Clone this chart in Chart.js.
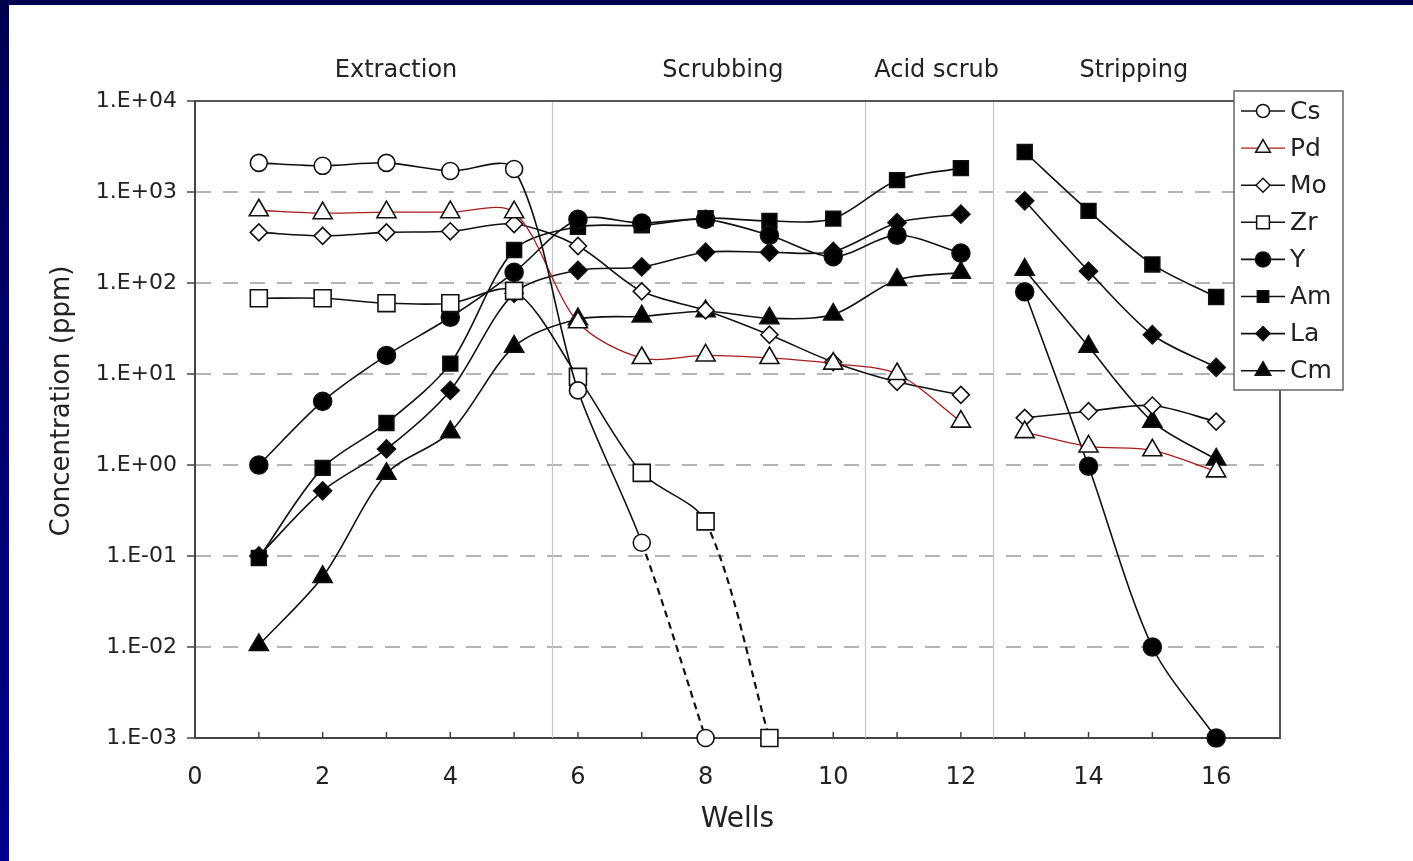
<!DOCTYPE html>
<html>
<head>
<meta charset="utf-8">
<script src="https://cdn.jsdelivr.net/npm/chart.js@4/dist/chart.umd.min.js"></script>
<style>
  html, body { margin: 0; padding: 0; }
  body { width: 1413px; height: 861px; background: linear-gradient(#000050, #00008b); overflow: hidden; position: relative; }
  #panel { position: absolute; left: 9px; top: 5px; width: 1404px; height: 856px; background: #fff; }
  #wrap { position: absolute; left: 0; top: 0; width: 1413px; height: 861px; }
</style>
</head>
<body>
<div id="panel"></div>
<div id="wrap"><canvas id="c" width="1413" height="861"></canvas></div>
<script>
// wells 1..16, null = no value (the gap between acid scrub and stripping is at 12.5)
const wells = [1, 2, 3, 4, 5, 6, 7, 8, 9, 10, 11, 12, 12.5, 13, 14, 15, 16];

const cs = [2090, 1940, 2090, 1700, 1790, 6.6, 0.14, 0.001, null, null, null, null, null, null, null, null, null];
const pd = [630, 585, 600, 600, 600, 37, 15, 16, 15, 13, 10, 3.0, null, 2.3, 1.6, 1.45, 0.85];
const mo = [360, 330, 360, 370, 445, 255, 81, 50, 27, 13.5, 8.2, 5.9, null, 3.3, 3.9, 4.5, 3.0];
const zr = [68, 68, 60, 60, 82, 9.3, 0.82, 0.24, 0.001, null, null, null, null, null, null, null, null];
const yy = [1.0, 5.0, 16, 42, 131, 500, 455, 500, 335, 195, 335, 213, null, 80, 0.97, 0.01, 0.001];
const am = [0.095, 0.93, 2.9, 13, 230, 415, 430, 515, 480, 510, 1350, 1830, null, 2750, 620, 160, 70];
const la = [0.1, 0.52, 1.5, 6.6, 77, 138, 150, 218, 218, 222, 460, 570, null, 800, 135, 27, 11.8];
const cm = [0.0105, 0.059, 0.8, 2.3, 20, 40, 43, 49, 41, 45, 108, 130, null, 140, 20, 3.0, 1.15];

const seriesNames = ['Cs', 'Pd', 'Mo', 'Zr', 'Y', 'Am', 'La', 'Cm'];
const seriesValues = [cs, pd, mo, zr, yy, am, la, cm];
// last segment of Cs and Zr is drawn dashed (below detection)
const dashedLast = [true, false, false, true, false, false, false, false];

const yTicks = [0.001, 0.01, 0.1, 1, 10, 100, 1000, 10000];
const yTickLabels = ['1.E-03', '1.E-02', '1.E-01', '1.E+00', '1.E+01', '1.E+02', '1.E+03', '1.E+04'];
const xLabelTicks = [0, 2, 4, 6, 8, 10, 12, 14, 16];

const sections = ['Extraction', 'Scrubbing', 'Acid scrub', 'Stripping'];
const sectionCenters = [3.15, 8.27, 11.62, 14.71];
const sectionDividers = [5.6, 10.5, 12.5];

const styles = {
  Cs: { shape: 'circle', fill: '#fff', r: 8.5, line: '#111', lr: 6.5 },
  Pd: { shape: 'triangle', fill: '#fff', r: 11, line: '#a81c1c', lr: 8.5 },
  Mo: { shape: 'rectRot', fill: '#fff', r: 8.5, line: '#111', lr: 7 },
  Zr: { shape: 'rect', fill: '#fff', r: 12, line: '#111', lr: 9 },
  Y:  { shape: 'circle', fill: '#000', r: 9, line: '#111', lr: 7.5 },
  Am: { shape: 'rect', fill: '#000', r: 10.5, line: '#111', lr: 8 },
  La: { shape: 'rectRot', fill: '#000', r: 9, line: '#111', lr: 7 },
  Cm: { shape: 'triangle', fill: '#000', r: 11, line: '#111', lr: 9 }
};

const datasets = seriesNames.map((name, i) => {
  const st = styles[name];
  const vals = seriesValues[i];
  const pts = wells.map((w, j) => ({ x: w, y: vals[j] }));
  const lastIdx = vals.reduce((a, v, j) => v != null ? j : a, -1);
  return {
    label: name,
    data: pts,
    borderColor: st.line,
    borderWidth: name === 'Pd' ? 1.3 : 1.6,
    backgroundColor: st.fill,
    pointStyle: st.shape,
    pointRadius: wells.map((w, j) => vals[j] == null ? 0 : st.r),
    pointBorderColor: '#111',
    pointBackgroundColor: st.fill,
    pointBorderWidth: 1.6,
    tension: 0.3,
    spanGaps: false,
    clip: false,
    segment: dashedLast[i] ? {
      borderDash: ctx => ctx.p1DataIndex === lastIdx ? [7, 5] : undefined,
      borderWidth: ctx => ctx.p1DataIndex === lastIdx ? 2.2 : undefined
    } : undefined
  };
});

const font = '"DejaVu Sans", Arial, sans-serif';

function shapePath(ctx, shape, x, y, r) {
  ctx.beginPath();
  if (shape === 'circle') {
    ctx.arc(x, y, r, 0, Math.PI * 2);
  } else if (shape === 'triangle') {
    for (let k = 0; k < 3; k++) {
      const a = -Math.PI / 2 + k * 2 * Math.PI / 3;
      const px = x + Math.cos(a) * r, py = y + Math.sin(a) * r;
      if (k === 0) ctx.moveTo(px, py); else ctx.lineTo(px, py);
    }
  } else if (shape === 'rectRot') {
    ctx.moveTo(x - r, y); ctx.lineTo(x, y - r); ctx.lineTo(x + r, y); ctx.lineTo(x, y + r);
  } else {
    const s = r * Math.SQRT1_2;
    ctx.rect(x - s, y - s, 2 * s, 2 * s);
  }
  ctx.closePath();
}

const decorPlugin = {
  id: 'decor',
  beforeDatasetsDraw(chart) {
    const { ctx, chartArea: a, scales: { x } } = chart;
    ctx.save();
    // section dividers
    ctx.strokeStyle = '#c4c4c4';
    ctx.lineWidth = 1.2;
    sectionDividers.forEach(v => {
      const px = Math.round(x.getPixelForValue(v)) + 0.5;
      ctx.beginPath(); ctx.moveTo(px, a.top); ctx.lineTo(px, a.bottom); ctx.stroke();
    });
    // inner minor ticks on x axis
    ctx.strokeStyle = '#444';
    ctx.lineWidth = 1.5;
    for (let v = 1; v <= 16; v++) {
      const px = x.getPixelForValue(v);
      ctx.beginPath(); ctx.moveTo(px, a.bottom); ctx.lineTo(px, a.bottom - 6); ctx.stroke();
    }
    // top and right frame
    ctx.strokeStyle = '#555';
    ctx.lineWidth = 2;
    ctx.beginPath();
    ctx.moveTo(a.left, a.top); ctx.lineTo(a.right, a.top); ctx.lineTo(a.right, a.bottom);
    ctx.stroke();
    // section labels
    ctx.fillStyle = '#222';
    ctx.font = '24px ' + font;
    ctx.textAlign = 'center';
    ctx.textBaseline = 'middle';
    sections.forEach((s, i) => ctx.fillText(s, x.getPixelForValue(sectionCenters[i]), 71));
    // y axis title
    ctx.save();
    ctx.translate(62, 401);
    ctx.rotate(-Math.PI / 2);
    ctx.font = '26px ' + font;
    ctx.fillText('Concentration (ppm)', 0, 0);
    ctx.restore();
    ctx.restore();
  },
  afterDraw(chart) {
    const { ctx } = chart;
    const bx = 1234, by = 91, bw = 109, bh = 299;
    ctx.save();
    ctx.fillStyle = '#fff';
    ctx.fillRect(bx, by, bw, bh);
    ctx.strokeStyle = '#666';
    ctx.lineWidth = 1.5;
    ctx.strokeRect(bx, by, bw, bh);
    seriesNames.forEach((name, i) => {
      const st = styles[name];
      const cy = 111 + i * 37.1;
      ctx.strokeStyle = st.line;
      ctx.lineWidth = name === 'Pd' ? 1.3 : 1.6;
      ctx.beginPath(); ctx.moveTo(1241, cy); ctx.lineTo(1285, cy); ctx.stroke();
      shapePath(ctx, st.shape, 1263, cy, st.lr);
      ctx.fillStyle = st.fill;
      ctx.fill();
      ctx.strokeStyle = '#111';
      ctx.lineWidth = 1.5;
      ctx.stroke();
      ctx.fillStyle = '#222';
      ctx.font = '25px ' + font;
      ctx.textAlign = 'left';
      ctx.textBaseline = 'middle';
      ctx.fillText(name, 1290, cy + 1);
    });
    ctx.restore();
  }
};

new Chart(document.getElementById('c'), {
  type: 'line',
  data: { datasets },
  plugins: [decorPlugin],
  options: {
    responsive: false,
    animation: false,
    layout: { padding: { left: 48, top: 101, right: 133, bottom: 24 } },
    plugins: { legend: { display: false }, tooltip: { enabled: false } },
    scales: {
      x: {
        type: 'linear',
        min: 0,
        max: 17,
        afterBuildTicks: s => { s.ticks = xLabelTicks.map(v => ({ value: v })); },
        afterFit: s => { s.height = 99; },
        ticks: { color: '#222', font: { size: 24, family: font }, padding: 25, maxRotation: 0, autoSkip: false },
        grid: { display: true, drawOnChartArea: false, drawTicks: false },
        border: { color: '#444', width: 2 },
        title: { display: true, text: 'Wells', color: '#222', font: { size: 28, family: font }, padding: 0 }
      },
      y: {
        type: 'logarithmic',
        min: 0.001,
        max: 10000,
        afterBuildTicks: s => { s.ticks = yTicks.map(v => ({ value: v })); },
        afterFit: s => { s.width = 147; },
        ticks: {
          color: '#222',
          font: { size: 22, family: font },
          padding: 10,
          autoSkip: false,
          callback: v => yTickLabels[yTicks.indexOf(v)]
        },
        grid: {
          color: ctx => (ctx.tick && (ctx.tick.value === 10000 || ctx.tick.value === 0.001)) ? 'rgba(0,0,0,0)' : '#b4b4b4',
          lineWidth: 2,
          tickLength: 8,
          tickColor: '#444',
          tickWidth: 1.5
        },
        border: { color: '#444', width: 2, dash: [15, 12] }
      }
    }
  }
});
</script>
</body>
</html>
